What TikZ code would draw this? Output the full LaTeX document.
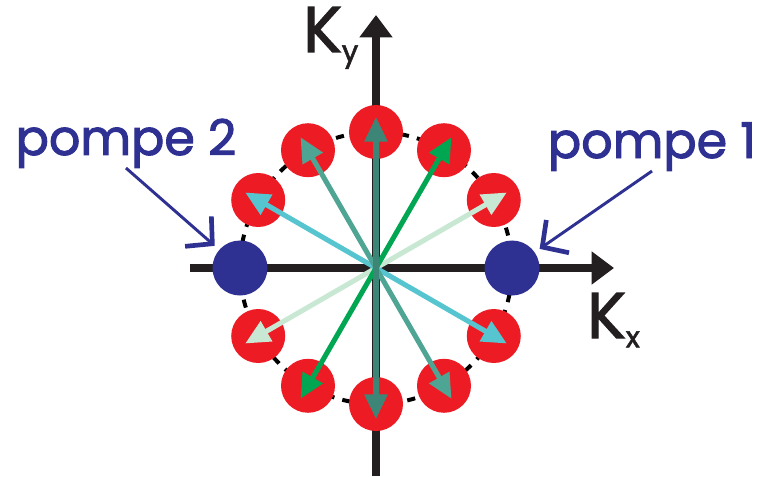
\documentclass[tikz,border=0pt]{standalone}
\usepackage{fontspec}
\setmainfont{Poppins}
\newfontfamily\handfont{Poppins}[FakeBold=2]
\usetikzlibrary{arrows.meta,calc,positioning}
\definecolor{DotRed}{RGB}{237,28,36}
\definecolor{PumpBlue}{RGB}{46,49,146}
\definecolor{AxisBlack}{RGB}{35,31,32}
\definecolor{DeepTeal}{RGB}{61,133,119}
\definecolor{LeafGreen}{RGB}{0,166,81}
\definecolor{PaleGreen}{RGB}{201,232,212}
\definecolor{SkyCyan}{RGB}{86,197,208}
\definecolor{SeaTeal}{RGB}{79,165,147}

\begin{document}
\begin{tikzpicture}[x=0.03cm,y=0.03cm,>=Latex,
    dot/.style={circle,fill=DotRed,minimum size=1.62cm,inner sep=0pt},
    pump/.style={circle,fill=PumpBlue,minimum size=1.65cm,inner sep=0pt},
    wave/.style={line width=4.3pt,-{Triangle[length=21pt,width=19pt]}},
    axis/.style={line width=6pt,AxisBlack,-{Triangle[length=19pt,width=27pt]}},
    pointer/.style={line width=2.5pt,PumpBlue,-{Straight Barb[length=16pt,width=34pt,line width=4pt]},shorten >=5pt},
    lab/.style={text=PumpBlue,font=\handfont\fontsize{42}{46}\selectfont,inner sep=0pt},
    klab/.style={text=AxisBlack,font=\handfont\fontsize{55}{58}\selectfont,inner sep=0pt}]
      \useasboundingbox (-376,-208) rectangle (387,268);
      \coordinate (O) at (0,0);
      \coordinate (xs) at (-186,0);
      \coordinate (xe) at (238,0);
      \coordinate (ys) at (0,-208);
      \coordinate (ye) at (0,253);
      \draw[axis] (xs)--(xe);
      \draw[axis] (ys)--(ye);
      \draw[line width=3.4pt,dash pattern=on 7pt off 7pt] (O) circle (136);
      \foreach \a in {30,60,90,120,150,210,240,270,300,330}
        \node[dot] (r\a) at (\a:136) {};
      \node[pump] (p1) at (0:136) {};
      \node[pump] (p2) at (180:136) {};
      \foreach \a/\c in {30/PaleGreen,210/PaleGreen,150/SkyCyan,330/SkyCyan,
                         120/SeaTeal,300/SeaTeal,60/LeafGreen,240/LeafGreen,
                         90/DeepTeal,270/DeepTeal}{
        \coordinate (t\a) at (\a:151);
        \draw[wave,\c] (O)--(t\a);
      }
      \node[lab,anchor=base] (lab2) at (-250,113) {pompe 2};
      \node[lab,anchor=base] (lab1) at (276,110) {pompe 1};
      \draw[pointer] (lab2.south) -- (p2);
      \draw[pointer] (lab1.south) -- (p1);
      \node[klab,anchor=base west] (ky) at (-73,216)
        {K\raisebox{-8pt}{\fontsize{25}{25}\selectfont y}};
      \node[klab,anchor=base west] (kx) at (211,-70)
        {K\raisebox{-8pt}{\fontsize{25}{25}\selectfont x}};
    \end{tikzpicture}
\end{document}
